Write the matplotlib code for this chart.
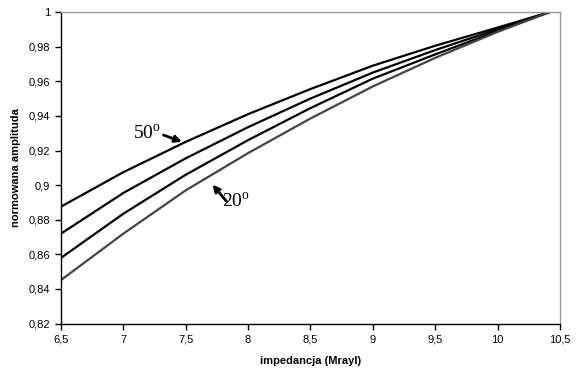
import matplotlib
matplotlib.use('Agg')
import matplotlib.pyplot as plt
from matplotlib.ticker import FuncFormatter

# impedance (Mrayl) and normalised amplitude for four angles
impedance = [6.5, 7.0, 7.5, 8.0, 8.5, 9.0, 9.5, 10.0, 10.42]
amp_50 = [0.8876, 0.9075, 0.9250, 0.9410, 0.9555, 0.9690, 0.9805, 0.9910, 1.0]
amp_40 = [0.8720, 0.8955, 0.9155, 0.9335, 0.9500, 0.9650, 0.9780, 0.9900, 1.0]
amp_30 = [0.8580, 0.8835, 0.9060, 0.9260, 0.9445, 0.9615, 0.9755, 0.9890, 1.0]
amp_20 = [0.8452, 0.8720, 0.8970, 0.9185, 0.9385, 0.9570, 0.9735, 0.9885, 1.0]

x_ticks = [6.5, 7, 7.5, 8, 8.5, 9, 9.5, 10, 10.5]
y_ticks = [0.82, 0.84, 0.86, 0.88, 0.9, 0.92, 0.94, 0.96, 0.98, 1.0]

plt.rcParams['font.family'] = ['Liberation Sans', 'DejaVu Sans']
plt.rcParams['mathtext.fontset'] = 'custom'
plt.rcParams['mathtext.rm'] = 'Liberation Serif'

fig = plt.figure(figsize=(5.76, 3.75), dpi=100)
ax = fig.add_axes([0.106, 0.137, 0.866, 0.831])

for vals, col in [(amp_50, 'black'), (amp_40, 'black'), (amp_30, 'black'), (amp_20, '#444444')]:
    ax.plot(impedance, vals, color=col, lw=1.6)

ax.set_xlim(6.5, 10.5)
ax.set_ylim(0.82, 1.0)
ax.set_xticks(x_ticks)
ax.set_yticks(y_ticks)

def comma(v, pos):
    s = ('%g' % v)
    return s.replace('.', ',')

ax.xaxis.set_major_formatter(FuncFormatter(comma))
ax.yaxis.set_major_formatter(FuncFormatter(comma))
ax.tick_params(direction='out', length=4, width=1, labelsize=8, pad=4)

for side in ['top', 'right']:
    ax.spines[side].set_color('#999999')
    ax.spines[side].set_linewidth(1)
for side in ['left', 'bottom']:
    ax.spines[side].set_color('black')
    ax.spines[side].set_linewidth(1)

ax.set_xlabel('impedancja (Mrayl)', fontsize=8, fontweight='bold', labelpad=8)
ax.set_ylabel('normowana amplituda', fontsize=8, fontweight='bold', labelpad=5)

# annotations
ax.text(7.075, 0.9265, r'50$^{\rm o}$', fontsize=14, family='Liberation Serif', ha='left', va='baseline')
ax.annotate('', xy=(7.49, 0.9245), xytext=(7.30, 0.9295),
            arrowprops=dict(arrowstyle='-|>', lw=2, color='black', mutation_scale=10))
ax.text(7.79, 0.8874, r'20$^{\rm o}$', fontsize=14, family='Liberation Serif', ha='left', va='baseline')
ax.annotate('', xy=(7.70, 0.9015), xytext=(7.84, 0.8895),
            arrowprops=dict(arrowstyle='-|>', lw=2, color='black', mutation_scale=10))

fig.savefig('out.png', dpi=100)
